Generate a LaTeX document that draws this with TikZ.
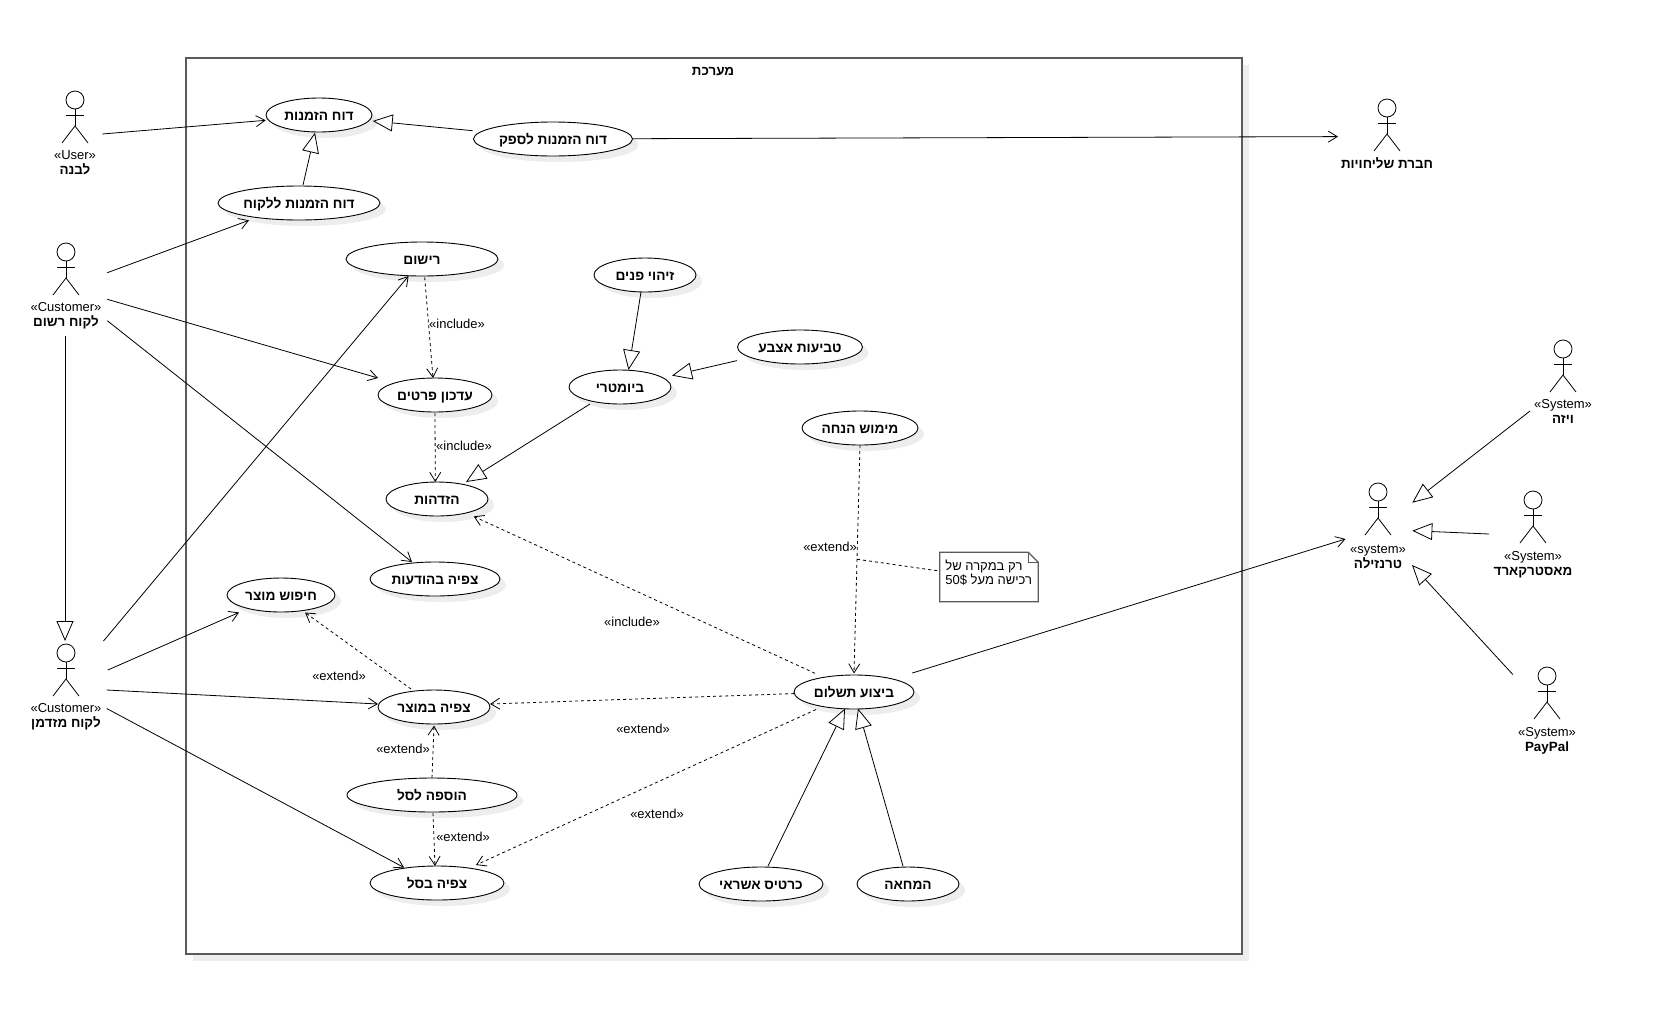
\documentclass[tikz,border=0pt]{standalone}
\usepackage{fontspec}
\setmainfont{Liberation Sans}
\newfontfamily\hebf[Script=Hebrew]{Liberation Sans}
\usetikzlibrary{arrows.meta,shapes.geometric,shadows}
\TeXXeTstate=1
\newcommand{\heb}[1]{{\hebf\beginR #1\endR}}
\definecolor{frameg}{HTML}{5A5A5A}
\tikzset{
  x=1pt,y=-1pt,
  ucase/.style={ellipse,draw=black,fill=white,line width=0.9pt,minimum height=34pt,inner sep=0pt,font=\fontsize{13.7}{16}\selectfont\bfseries,text height=11pt,text depth=0pt,
    general shadow={shadow xshift=6pt,shadow yshift=-6pt,fill=black!7,draw=none}},
  assoc/.style={line width=0.8pt,-{Straight Barb[length=9pt,width=11pt,line width=0.8pt]}},
  depend/.style={line width=0.8pt,dash pattern=on 3pt off 3pt,-{Straight Barb[length=9pt,width=11pt,line width=0.8pt,sep=0pt]}},
  gener/.style={line width=0.8pt,-{Triangle[open,length=20pt,width=17pt,fill=white,line width=0.8pt]}},
  notelink/.style={line width=0.8pt,dash pattern=on 3pt off 3pt},
  actorline/.style={line width=0.8pt},
  stereo/.style={font=\fontsize{13}{15}\selectfont,inner sep=0pt,text height=9pt,text depth=0pt},
  actorname/.style={font=\fontsize{13.4}{16}\selectfont\bfseries,inner sep=0pt,text height=9pt,text depth=0pt},
  rel/.style={font=\fontsize{13}{15}\selectfont,inner sep=0pt},
  actorhead/.style={circle,draw=black,line width=0.8pt,minimum size=18pt,inner sep=0pt},
}
\newcommand{\actorfig}[3]{%
  \node[actorhead] (#1) at (#2,#3) {};
  \draw[actorline] (#1.south) -- ([shift={(0,26)}]#1.center) coordinate (#1hip);
  \draw[actorline] ([shift={(-9,15)}]#1.center) -- ([shift={(9,15)}]#1.center);
  \draw[actorline] ([shift={(-13,43)}]#1.center) -- (#1hip) -- ([shift={(13,43)}]#1.center);
}
% #1 actor, #2 offset of the stereotype, #3 stereotype, #4 name
\newcommand{\actorlab}[4]{%
  \node[stereo] (#1s) at ([shift={(0,#2)}]#1.center) {#3};
  \node[actorname] (#1n) at ([shift={(0,#2+15)}]#1.center) {#4};
}
\begin{document}
\begin{tikzpicture}
\useasboundingbox (0,0) rectangle (1673,1026);
\node[draw=frameg,fill=white,line width=1.1pt,minimum width=1056pt,minimum height=896pt,inner sep=0pt,
  general shadow={shadow xshift=7pt,shadow yshift=-7pt,fill=black!7,draw=none}] (sys) at (714,506) {};
\node[font=\fontsize{13.4}{16}\selectfont\bfseries,inner sep=0pt,text height=9pt,text depth=0pt] (systitle) at (713,70.5) {\heb{מערכת}};

\actorfig{lb}{75}{100}\actorlab{lb}{55}{«User»}{\heb{לבנה}}
\actorfig{rc}{66}{252}\actorlab{rc}{55}{«Customer»}{\heb{לקוח רשום}}
\actorfig{gc}{66}{653}\actorlab{gc}{55}{«Customer»}{\heb{לקוח מזדמן}}
\actorfig{ship}{1387}{108}
\node[actorname] (shipn) at ([shift={(0,56)}]ship.center) {\heb{חברת שליחויות}};
\actorfig{visa}{1563}{349}\actorlab{visa}{55}{«System»}{\heb{ויזה}}
\actorfig{tr}{1378}{492}\actorlab{tr}{57}{«system»}{\heb{טרנזילה}}
\actorfig{mc}{1533}{500}\actorlab{mc}{55.5}{«System»}{\heb{מאסטרקארד}}
\actorfig{pp}{1547}{676}\actorlab{pp}{55.5}{«System»}{PayPal}

\node[ucase,minimum width=106pt] (rep) at (319,115) {\heb{דוח הזמנות}};
\node[ucase,minimum width=162pt] (repc) at (299,203) {\heb{דוח הזמנות ללקוח}};
\node[ucase,minimum width=159pt] (repv) at (553,139) {\heb{דוח הזמנות לספק}};
\node[ucase,minimum width=152pt] (reg) at (422,259) {\heb{רישום}};
\node[ucase,minimum width=102pt] (face) at (645,275) {\heb{זיהוי פנים}};
\node[ucase,minimum width=125pt] (finger) at (800,347) {\heb{טביעות אצבע}};
\node[ucase,minimum width=102pt] (bio) at (620,387) {\heb{ביומטרי}};
\node[ucase,minimum width=114pt] (upd) at (435,395) {\heb{עדכון פרטים}};
\node[ucase,minimum width=116pt] (disc) at (860,428) {\heb{מימוש הנחה}};
\node[ucase,minimum width=102pt] (auth) at (437,499) {\heb{הזדהות}};
\node[ucase,minimum width=130pt] (notif) at (435,579) {\heb{צפיה בהודעות}};
\node[ucase,minimum width=108pt] (search) at (281,595) {\heb{חיפוש מוצר}};
\node[ucase,minimum width=112pt] (view) at (434,707) {\heb{צפיה במוצר}};
\node[ucase,minimum width=120pt] (pay) at (854,692) {\heb{ביצוע תשלום}};
\node[ucase,minimum width=170pt] (add) at (432,795) {\heb{הוספה לסל}};
\node[ucase,minimum width=134pt] (cart) at (437,883) {\heb{צפיה בסל}};
\node[ucase,minimum width=124pt] (card) at (761,884) {\heb{כרטיס אשראי}};
\node[ucase,minimum width=102pt] (check) at (908,884) {\heb{המחאה}};

% associations
\draw[assoc] ([shift={(27.3,34)}]lb.center) -- ([shift={(-53.3,5.3)}]rep.center);
\draw[assoc] ([shift={(41.3,20.7)}]rc.center) -- ([shift={(-50,17.3)}]repc.center);
\draw[assoc] ([shift={(41.3,47.3)}]rc.center) -- ([shift={(-57,-17)}]upd.center);
\draw[assoc] ([shift={(41.3,68.7)}]rc.center) -- ([shift={(-23,-17)}]notif.center);
\draw[assoc] ([shift={(37.5,-12)}]gc.center) -- ([shift={(-13.4,17)}]reg.center);
\draw[assoc] ([shift={(41.8,17)}]gc.center) -- ([shift={(-42,17.5)}]search.center);
\draw[assoc] ([shift={(40.7,37)}]gc.center) -- ([shift={(-56,-3)}]view.center);
\draw[assoc] ([shift={(40.7,55.5)}]gc.center) -- ([shift={(-33,-15.5)}]cart.center);
\draw[assoc] ([shift={(80,-0.3)}]repv.center) -- ([shift={(-49,28.6)}]ship.center);
\draw[assoc] ([shift={(58.3,-19)}]pay.center) -- ([shift={(-32.5,47)}]tr.center);

% generalisations
\draw[gener] ([shift={(-1,84)}]rc.center) -- ([shift={(-1,-12)}]gc.center);
\draw[gener] ([shift={(4,-18)}]repc.center) -- ([shift={(-4,17.7)}]rep.center);
\draw[gener] ([shift={(-80.3,-8.3)}]repv.center) -- ([shift={(53.7,6)}]rep.center);
\draw[gener] ([shift={(-4,17)}]face.center) -- ([shift={(8.5,-17)}]bio.center);
\draw[gener] ([shift={(-63,13.6)}]finger.center) -- ([shift={(52,-11.4)}]bio.center);
\draw[gener] ([shift={(-30,17)}]bio.center) -- ([shift={(29,-17)}]auth.center);
\draw[gener] ([shift={(7,-18)}]card.center) -- ([shift={(-9,16.5)}]pay.center);
\draw[gener] ([shift={(-5,-18)}]check.center) -- ([shift={(4,16.5)}]pay.center);
\draw[gener] ([shift={(-33,62)}]visa.center) -- ([shift={(34.3,10.7)}]tr.center);
\draw[gener] ([shift={(-44,34)}]mc.center) -- ([shift={(34.3,38.7)}]tr.center);
\draw[gener] ([shift={(-34,-1.3)}]pp.center) -- ([shift={(34,73)}]tr.center);

% dependencies
\draw[depend] ([shift={(2.7,18.4)}]reg.center) -- ([shift={(-2,-17)}]upd.center);
\node[rel] (l1) at (457,324) {«include»};
\draw[depend] ([shift={(0,18)}]upd.center) -- ([shift={(-1.7,-17)}]auth.center);
\node[rel] (l2) at (464,446) {«include»};
\draw[depend] ([shift={(0,17)}]disc.center) -- coordinate[pos=0.5] (nl) ([shift={(0,-18.5)}]pay.center);
\node[rel] (l3) at (830,547) {«extend»};
\draw[depend] ([shift={(-39,-18.7)}]pay.center) -- ([shift={(36.7,17.4)}]auth.center);
\node[rel] (l4) at (632,622) {«include»};
\draw[depend] ([shift={(-60,1.6)}]pay.center) -- ([shift={(56,-3)}]view.center);
\node[rel] (l5) at (643,728.7) {«extend»};
\draw[depend] ([shift={(-38,17.5)}]pay.center) -- ([shift={(39,-18)}]cart.center);
\node[rel] (l6) at (657,814) {«extend»};
\draw[depend] ([shift={(-23,-18)}]view.center) -- ([shift={(24,17.5)}]search.center);
\node[rel] (l7) at (339,675.4) {«extend»};
\draw[depend] ([shift={(0,-17)}]add.center) -- ([shift={(0,18.5)}]view.center);
\node[rel] (l8) at (403,749) {«extend»};
\draw[depend] ([shift={(1,18)}]add.center) -- ([shift={(-2,-17)}]cart.center);
\node[rel] (l9) at (463,836.5) {«extend»};

% note
\node[minimum width=98pt,minimum height=49pt,inner sep=0pt] (note) at (989,577) {};
\draw[draw=frameg,line width=1.2pt,fill=white] (note.north west) -- ([shift={(-10,0)}]note.north east) -- ([shift={(0,10)}]note.north east) -- (note.south east) -- (note.south west) -- cycle;
\draw[line width=0.8pt,draw=frameg] ([shift={(-10,0)}]note.north east) -- ([shift={(-10,10)}]note.north east) -- ([shift={(0,10)}]note.north east);
\node[font=\fontsize{13}{15}\selectfont,inner sep=0pt,anchor=west] (n1) at (945.2,566.5) {\heb{רק במקרה של}};
\node[font=\fontsize{13}{15}\selectfont,inner sep=0pt,anchor=west] (n2) at (945.2,579.5) {\heb{רכישה מעל \beginL 50\$\endL}};
\draw[notelink] (nl) -- ([shift={(-49.7,-6)}]note.center);
\end{tikzpicture}
\end{document}
